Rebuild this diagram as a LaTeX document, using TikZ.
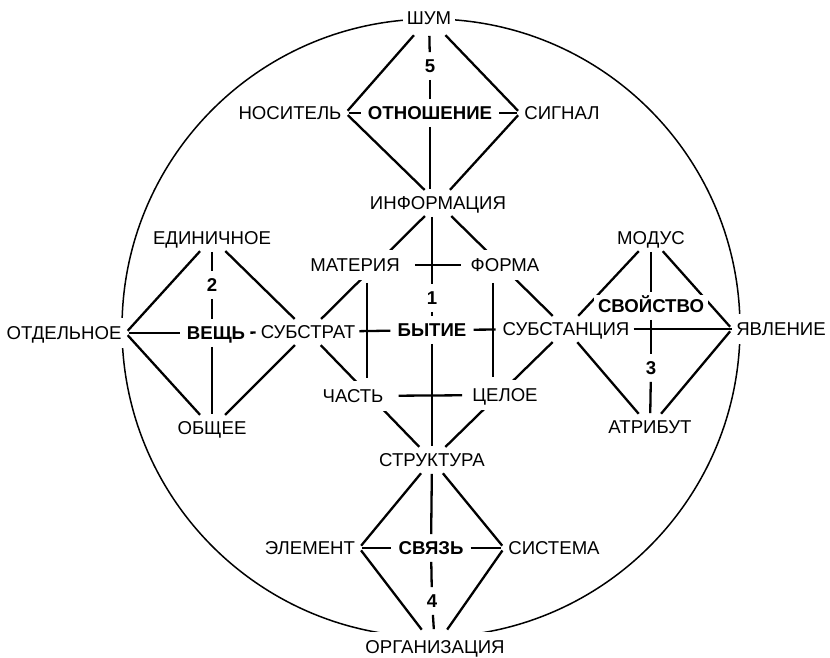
\documentclass[tikz,border=0pt]{standalone}
\usepackage{fontspec}
\setmainfont{Liberation Sans}
\usetikzlibrary{backgrounds}

\tikzset{
  every node/.style={font=\fontsize{18.6}{20}\selectfont, text height=13.5pt, text depth=0pt, inner sep=4pt},
  lbl/.style={fill=white},
  hub/.style={fill=white, font=\fontsize{18.6}{20}\selectfont\bfseries},
  numlbl/.style={hub},
  midlbl/.style={lbl, inner ysep=8pt},
  rimlbl/.style={lbl, inner ysep=8pt},
  link/.style={line width=2.3pt, shorten <=3pt, shorten >=3pt},
  tight/.style={link, shorten <=0pt, shorten >=0pt},
  ringline/.style={line width=1.5pt},
}

\begin{document}
\begin{tikzpicture}[x=1pt, y=-1pt]
  \useasboundingbox (0,0) rectangle (830,658);
  % nodes: top diamond
  \node[rimlbl] (shum) at (429,18) {ШУМ};
  \node[numlbl] (n5) at (430,66) {5};
  \node[lbl] (nos) at (290,113) {НОСИТЕЛЬ};
  \node[hub] (otn) at (430,113) {ОТНОШЕНИЕ};
  \node[lbl] (sig) at (562,113) {СИГНАЛ};
  \node[lbl] (info) at (438,203) {ИНФОРМАЦИЯ};
  % nodes: central diamond
  \node[midlbl] (mat) at (355,265) {МАТЕРИЯ};
  \node[midlbl] (form) at (505,265) {ФОРМА};
  \node[numlbl] (n1) at (432,298) {1};
  \node[lbl] (substr) at (308,332) {СУБСТРАТ};
  \node[hub] (byt) at (432,330) {БЫТИЕ};
  \node[lbl] (subst) at (566,329) {СУБСТАНЦИЯ};
  \node[midlbl] (chast) at (353,396) {ЧАСТЬ};
  \node[midlbl] (tseloe) at (505,395) {ЦЕЛОЕ};
  \node[lbl] (strukt) at (432,460) {СТРУКТУРА};
  % nodes: left diamond
  \node[lbl] (edin) at (212,238) {ЕДИНИЧНОЕ};
  \node[numlbl] (n2) at (212,285) {2};
  \node[rimlbl] (otd) at (64,333) {ОТДЕЛЬНОЕ};
  \node[hub] (vesch) at (216,333) {ВЕЩЬ};
  \node[lbl] (obsch) at (212,428) {ОБЩЕЕ};
  % nodes: right diamond
  \node[lbl] (modus) at (651,238) {МОДУС};
  \node[hub] (svoistvo) at (651,306) {СВОЙСТВО};
  \node[numlbl] (n3) at (651,368) {3};
  \node[rimlbl] (yavl) at (781,329) {ЯВЛЕНИЕ};
  \node[lbl] (atrib) at (650,427) {АТРИБУТ};
  % nodes: bottom diamond
  \node[lbl] (elem) at (310,548) {ЭЛЕМЕНТ};
  \node[hub] (svyaz) at (431,548) {СВЯЗЬ};
  \node[lbl] (sistema) at (554,548) {СИСТЕМА};
  \node[numlbl] (n4) at (432,601) {4};
  \node[rimlbl] (org) at (435,647) {ОРГАНИЗАЦИЯ};

  \begin{scope}[on background layer]
    \draw[ringline] (431,328) circle[radius=309pt];
    % top diamond
    \draw[link] (shum) -- (nos.east);
    \draw[link] (shum) -- (sig.west);
    \draw[link] (nos.east) -- (info);
    \draw[link] (sig.west) -- (info);
    \draw[link] (shum) -- (n5);
    \draw[link] (n5) -- (otn);
    \draw[link] (otn) -- (otn |- info.north);
    \draw[link] (nos) -- (otn);
    \draw[link] (otn) -- (sig);
    % central diamond
    \draw[link] (info) -- (substr);
    \draw[link] (info) -- (subst);
    \draw[link] (substr) -- (strukt);
    \draw[link] (subst) -- (strukt);
    \draw[link] (n1 |- info.south) -- (n1);
    \draw[link] (n1) -- (byt);
    \draw[link] (byt) -- (strukt);
    \draw[link, shorten <=11pt, shorten >=5pt] (mat) -- (form);
    \draw[link, shorten <=11pt, shorten >=6pt] (chast) -- (tseloe);
    \draw[link] ([xshift=12pt]mat.south) -- ([xshift=14pt]chast.north);
    \draw[link] ([xshift=-12pt]form.south) -- ([xshift=-12pt]tseloe.north);
    \draw[link, shorten <=0pt] (substr) -- (byt);
    \draw[link] (byt) -- (subst);
    % left diamond
    \draw[link] (edin) -- (otd.east);
    \draw[link] (edin) -- (substr);
    \draw[link] (otd.east) -- (obsch);
    \draw[link] (substr) -- (obsch);
    \draw[link] (edin) -- (n2);
    \draw[link] (n2) -- (n2 |- vesch.north);
    \draw[link] (obsch |- vesch.south) -- (obsch);
    \draw[link] (otd) -- (vesch);
    \draw[link, shorten <=1pt, shorten >=1pt] (vesch) -- (substr);
    % right diamond
    \draw[link] (subst) -- (modus);
    \draw[link] (subst) -- (atrib);
    \draw[link] (modus) -- (yavl.west);
    \draw[link] (atrib) -- (yavl.west);
    \draw[link] (modus) -- (svoistvo);
    \draw[link] (svoistvo) -- (n3);
    \draw[link] (n3) -- (atrib);
    \draw[tight] (subst) -- (yavl);
    % bottom diamond
    \draw[link] (strukt) -- (elem.east);
    \draw[link] (strukt) -- (sistema.west);
    \draw[link] (elem.east) -- (org);
    \draw[link] (sistema.west) -- (org);
    \draw[link] (strukt) -- (svyaz);
    \draw[link] (svyaz) -- (n4);
    \draw[link] (n4) -- (org);
    \draw[link] (elem) -- (svyaz);
    \draw[link] (svyaz) -- (sistema);
  \end{scope}
\end{tikzpicture}
\end{document}
